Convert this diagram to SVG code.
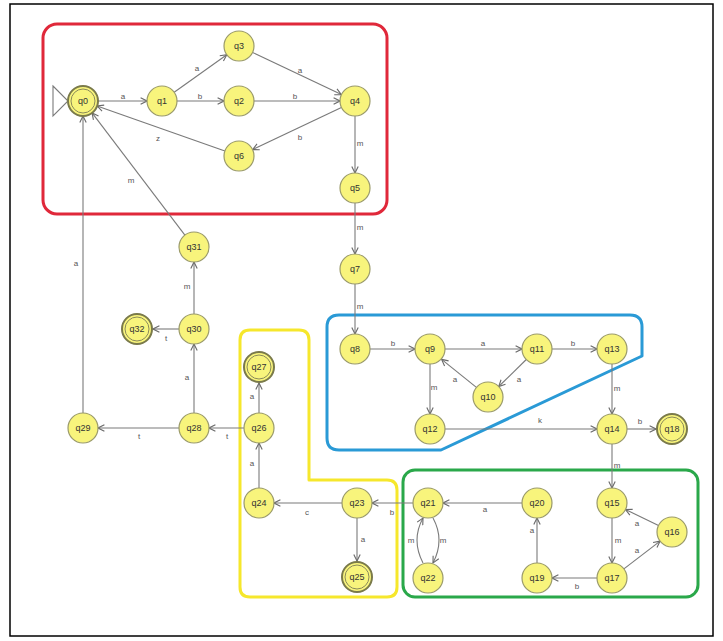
<svg xmlns="http://www.w3.org/2000/svg" width="723" height="641" viewBox="0 0 723 641">
  <style>
    .st circle.o { fill: #f8f47c; stroke: #9a9a6a; stroke-width: 1.2; }
    .st.fin circle.o { stroke: #7a7a4a; stroke-width: 2; }
    .st.fin circle.i { fill: none; stroke: #8a8a5a; stroke-width: 1; }
    .st text { font-family: "Liberation Sans", Arial, sans-serif; font-size: 9px; fill: #333; text-anchor: middle; dominant-baseline: central; }
    .edges line, .edges path { stroke: #7a7a7a; stroke-width: 1.1; fill: none; marker-end: url(#arr); }
    .lbl { font-family: "Liberation Sans", Arial, sans-serif; font-size: 8px; fill: #555; text-anchor: middle; dominant-baseline: central; }
    .grp { fill: none; stroke-width: 3; stroke-linejoin: round; }
  </style>
  <defs>
    <marker id="arr" viewBox="0 0 10 10" refX="9" refY="5" markerWidth="8" markerHeight="8" markerUnits="userSpaceOnUse" orient="auto">
      <path d="M1,1 L9,5 L1,9" fill="none" stroke="#6a6a6a" stroke-width="1.4"/>
    </marker>
  </defs>

  <rect x="0" y="0" width="723" height="641" fill="#fff"/>
  <rect x="10" y="4" width="703" height="632" fill="none" stroke="#000" stroke-width="1.5"/>

  <!-- region outlines -->
  <g id="regions">
    <rect class="grp" x="43" y="24" width="344" height="190" rx="14" stroke="#e0283a"/>
    <path class="grp" stroke="#f6e72c" d="M250,330 H299 Q309,330 309,340 V480 H387 Q397,480 397,490 V587 Q397,597 387,597 H250 Q240,597 240,587 V340 Q240,330 250,330 Z"/>
    <path class="grp" stroke="#2a9ad6" d="M339,315 H630 Q642,315 642,327 V356 L441,450 H339 Q327,450 327,438 V327 Q327,315 339,315 Z"/>
    <rect class="grp" x="403" y="470" width="295" height="127" rx="12" stroke="#2aa84a"/>
  </g>

  <!-- transitions -->
  <g class="edges" id="edges">
    <path d="M53,86 L68,101 L53,116 Z" style="marker-end:none" stroke="#777"/>
    <line x1="98" y1="101" x2="147" y2="101"/>
    <line x1="174.2" y1="92.3" x2="226.8" y2="54.7"/>
    <line x1="177" y1="101" x2="224" y2="101"/>
    <line x1="252.6" y1="52.4" x2="341.4" y2="94.6"/>
    <line x1="254" y1="101" x2="340" y2="101"/>
    <line x1="341.4" y1="107.4" x2="252.6" y2="149.6"/>
    <line x1="224.9" y1="151" x2="97.1" y2="106"/>
    <line x1="355" y1="116" x2="355" y2="173"/>
    <line x1="355" y1="203" x2="355" y2="254"/>
    <line x1="355" y1="284" x2="355" y2="334"/>
    <line x1="370" y1="349" x2="415" y2="349"/>
    <line x1="445" y1="349" x2="522" y2="349"/>
    <line x1="552" y1="349" x2="597" y2="349"/>
    <line x1="526.3" y1="359.5" x2="498.7" y2="386.5"/>
    <line x1="476.4" y1="387.4" x2="441.6" y2="359.4"/>
    <line x1="430" y1="364" x2="430" y2="414"/>
    <line x1="445" y1="429" x2="597" y2="429"/>
    <line x1="612" y1="364" x2="612" y2="414"/>
    <line x1="627" y1="429" x2="656" y2="429"/>
    <line x1="612" y1="444" x2="612" y2="488"/>
    <line x1="612" y1="518" x2="612" y2="563"/>
    <line x1="623.9" y1="568.9" x2="660.1" y2="541.1"/>
    <line x1="658.5" y1="525.5" x2="625.5" y2="509.5"/>
    <line x1="597" y1="578" x2="552" y2="578"/>
    <line x1="537" y1="563" x2="537" y2="518"/>
    <line x1="522" y1="503" x2="443" y2="503"/>
    <path d="M423,563 Q411,540 423,518"/>
    <path d="M433,518 Q445,540 433,563"/>
    <line x1="413" y1="503" x2="372" y2="503"/>
    <line x1="342" y1="503" x2="274" y2="503"/>
    <line x1="357" y1="518" x2="357" y2="561"/>
    <line x1="259" y1="488" x2="259" y2="443"/>
    <line x1="259" y1="413" x2="259" y2="383"/>
    <line x1="244" y1="428" x2="209" y2="428"/>
    <line x1="179" y1="428" x2="98" y2="428"/>
    <line x1="194" y1="413" x2="194" y2="344"/>
    <line x1="179" y1="329" x2="153" y2="329"/>
    <line x1="194" y1="314" x2="194" y2="262"/>
    <line x1="184.9" y1="235.1" x2="92.1" y2="112.9"/>
    <line x1="83" y1="413" x2="83" y2="116"/>
  </g>

  <!-- transition labels -->
  <g id="edge-labels">
    <text class="lbl" x="123" y="96">a</text>
    <text class="lbl" x="197" y="68">a</text>
    <text class="lbl" x="200" y="96">b</text>
    <text class="lbl" x="300" y="70">a</text>
    <text class="lbl" x="295" y="96">b</text>
    <text class="lbl" x="300" y="137">b</text>
    <text class="lbl" x="158" y="138">z</text>
    <text class="lbl" x="360" y="143">m</text>
    <text class="lbl" x="360" y="227">m</text>
    <text class="lbl" x="360" y="306">m</text>
    <text class="lbl" x="393" y="343">b</text>
    <text class="lbl" x="483" y="343">a</text>
    <text class="lbl" x="573" y="343">b</text>
    <text class="lbl" x="519" y="379">a</text>
    <text class="lbl" x="455" y="379">a</text>
    <text class="lbl" x="434" y="387">m</text>
    <text class="lbl" x="540" y="420">k</text>
    <text class="lbl" x="617" y="388">m</text>
    <text class="lbl" x="640" y="421">b</text>
    <text class="lbl" x="617" y="465">m</text>
    <text class="lbl" x="618" y="540">m</text>
    <text class="lbl" x="637" y="550">a</text>
    <text class="lbl" x="637" y="523">a</text>
    <text class="lbl" x="577" y="586">b</text>
    <text class="lbl" x="532" y="530">a</text>
    <text class="lbl" x="485" y="509">a</text>
    <text class="lbl" x="411" y="540">m</text>
    <text class="lbl" x="443" y="540">m</text>
    <text class="lbl" x="392" y="512">b</text>
    <text class="lbl" x="307" y="512">c</text>
    <text class="lbl" x="363" y="539">a</text>
    <text class="lbl" x="252" y="463">a</text>
    <text class="lbl" x="252" y="396">a</text>
    <text class="lbl" x="227" y="436">t</text>
    <text class="lbl" x="139" y="436">t</text>
    <text class="lbl" x="187" y="377">a</text>
    <text class="lbl" x="166" y="338">t</text>
    <text class="lbl" x="187" y="286">m</text>
    <text class="lbl" x="131" y="180">m</text>
    <text class="lbl" x="76" y="263">a</text>
  </g>

  <!-- states -->
  <g id="q0" class="st fin"><circle class="o" cx="83" cy="101" r="15"/><circle class="i" cx="83" cy="101" r="12"/><text x="83" y="101">q0</text></g>
  <g id="q1" class="st"><circle class="o" cx="162" cy="101" r="15"/><text x="162" y="101">q1</text></g>
  <g id="q2" class="st"><circle class="o" cx="239" cy="101" r="15"/><text x="239" y="101">q2</text></g>
  <g id="q3" class="st"><circle class="o" cx="239" cy="46" r="15"/><text x="239" y="46">q3</text></g>
  <g id="q4" class="st"><circle class="o" cx="355" cy="101" r="15"/><text x="355" y="101">q4</text></g>
  <g id="q5" class="st"><circle class="o" cx="355" cy="188" r="15"/><text x="355" y="188">q5</text></g>
  <g id="q6" class="st"><circle class="o" cx="239" cy="156" r="15"/><text x="239" y="156">q6</text></g>
  <g id="q7" class="st"><circle class="o" cx="355" cy="269" r="15"/><text x="355" y="269">q7</text></g>
  <g id="q8" class="st"><circle class="o" cx="355" cy="349" r="15"/><text x="355" y="349">q8</text></g>
  <g id="q9" class="st"><circle class="o" cx="430" cy="349" r="15"/><text x="430" y="349">q9</text></g>
  <g id="q10" class="st"><circle class="o" cx="488" cy="397" r="15"/><text x="488" y="397">q10</text></g>
  <g id="q11" class="st"><circle class="o" cx="537" cy="349" r="15"/><text x="537" y="349">q11</text></g>
  <g id="q12" class="st"><circle class="o" cx="430" cy="429" r="15"/><text x="430" y="429">q12</text></g>
  <g id="q13" class="st"><circle class="o" cx="612" cy="349" r="15"/><text x="612" y="349">q13</text></g>
  <g id="q14" class="st"><circle class="o" cx="612" cy="429" r="15"/><text x="612" y="429">q14</text></g>
  <g id="q15" class="st"><circle class="o" cx="612" cy="503" r="15"/><text x="612" y="503">q15</text></g>
  <g id="q16" class="st"><circle class="o" cx="672" cy="532" r="15"/><text x="672" y="532">q16</text></g>
  <g id="q17" class="st"><circle class="o" cx="612" cy="578" r="15"/><text x="612" y="578">q17</text></g>
  <g id="q18" class="st fin"><circle class="o" cx="672" cy="429" r="15"/><circle class="i" cx="672" cy="429" r="12"/><text x="672" y="429">q18</text></g>
  <g id="q19" class="st"><circle class="o" cx="537" cy="578" r="15"/><text x="537" y="578">q19</text></g>
  <g id="q20" class="st"><circle class="o" cx="537" cy="503" r="15"/><text x="537" y="503">q20</text></g>
  <g id="q21" class="st"><circle class="o" cx="428" cy="503" r="15"/><text x="428" y="503">q21</text></g>
  <g id="q22" class="st"><circle class="o" cx="428" cy="578" r="15"/><text x="428" y="578">q22</text></g>
  <g id="q23" class="st"><circle class="o" cx="357" cy="503" r="15"/><text x="357" y="503">q23</text></g>
  <g id="q24" class="st"><circle class="o" cx="259" cy="503" r="15"/><text x="259" y="503">q24</text></g>
  <g id="q25" class="st fin"><circle class="o" cx="357" cy="577" r="15"/><circle class="i" cx="357" cy="577" r="12"/><text x="357" y="577">q25</text></g>
  <g id="q26" class="st"><circle class="o" cx="259" cy="428" r="15"/><text x="259" y="428">q26</text></g>
  <g id="q27" class="st fin"><circle class="o" cx="259" cy="367" r="15"/><circle class="i" cx="259" cy="367" r="12"/><text x="259" y="367">q27</text></g>
  <g id="q28" class="st"><circle class="o" cx="194" cy="428" r="15"/><text x="194" y="428">q28</text></g>
  <g id="q29" class="st"><circle class="o" cx="83" cy="428" r="15"/><text x="83" y="428">q29</text></g>
  <g id="q30" class="st"><circle class="o" cx="194" cy="329" r="15"/><text x="194" y="329">q30</text></g>
  <g id="q31" class="st"><circle class="o" cx="194" cy="247" r="15"/><text x="194" y="247">q31</text></g>
  <g id="q32" class="st fin"><circle class="o" cx="137" cy="329" r="15"/><circle class="i" cx="137" cy="329" r="12"/><text x="137" y="329">q32</text></g>
</svg>
